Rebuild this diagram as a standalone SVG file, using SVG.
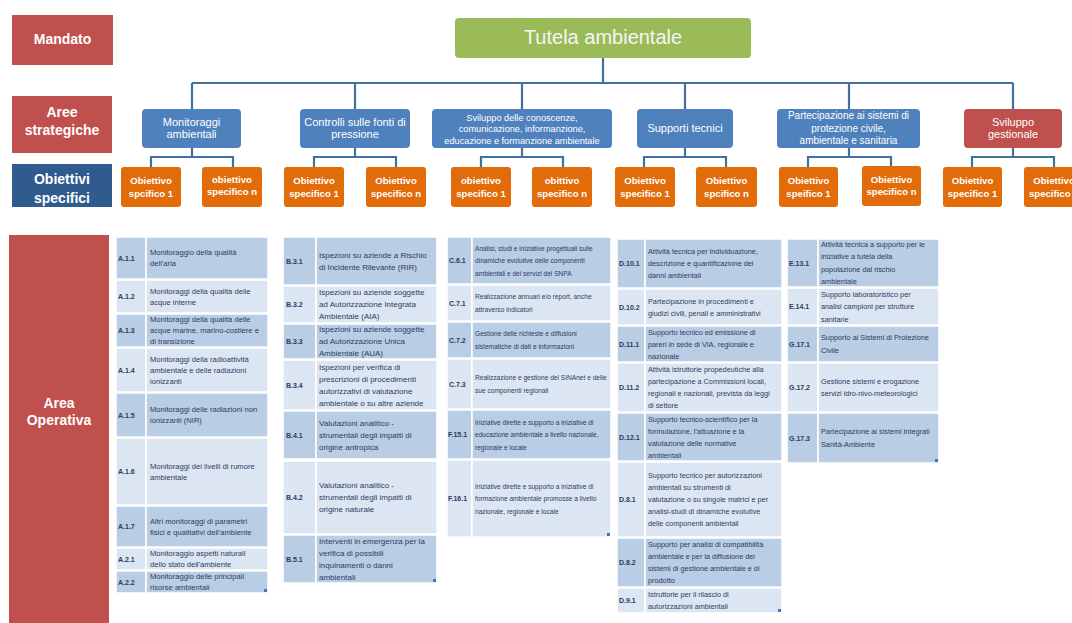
<svg xmlns="http://www.w3.org/2000/svg" width="1072" height="623" viewBox="0 0 1072 623">
<style>
text{font-family:"Liberation Sans",Arial,sans-serif}
.lab{fill:#c0504d}
.labb{fill:#2f5b8e}
.lt{fill:#fff;font-weight:bold;font-size:14px;text-anchor:middle}
.st{fill:#4f81bd}
.stt{fill:#fff;font-size:11px;text-anchor:middle}
.s9{font-size:9.2px}
.s10{font-size:10px}
.ob{fill:#e36c0a}
.obt{fill:#fff;font-size:9.6px;font-weight:bold;text-anchor:middle}
.con{stroke:#41719c;stroke-width:2.2;fill:none}
.dk{fill:#b9cde5;stroke:#fff;stroke-width:1.5}
.lg{fill:#dce6f2;stroke:#fff;stroke-width:1.5}
.cd{fill:#2e3b5e;font-size:7px;font-weight:bold}
.ta{fill:#2e3b5e;font-size:7.6px}
.tb{fill:#2e3b5e;font-size:8px}
.tc{fill:#2e3b5e;font-size:6.6px}
.td{fill:#2e3b5e;font-size:7.3px}
.mk{fill:#4472c4}
</style>
<rect width="1072" height="623" fill="#fff"/>

<!-- Left labels -->
<g id="lbl-mandato"><rect class="lab" x="12" y="15" width="101" height="50"/><text class="lt" x="62.5" y="44">Mandato</text></g>
<g id="lbl-aree"><rect class="lab" x="12" y="96" width="100" height="57"/><text class="lt" x="62" y="117">Aree</text><text class="lt" x="62" y="135">strategiche</text></g>
<g id="lbl-obiettivi"><rect class="labb" x="12" y="164" width="100" height="43"/><text class="lt" x="62" y="184">Obiettivi</text><text class="lt" x="62" y="203">specifici</text></g>
<g id="lbl-area-operativa"><rect class="lab" x="9" y="235" width="100" height="390"/><text class="lt" x="59" y="408">Area</text><text class="lt" x="59" y="425">Operativa</text></g>

<!-- Connectors -->
<g id="connectors">
<path class="con" d="M603 58V83M192 83H1013M192 83V109M355 83V109M522 83V109M685 83V109M849 83V109M1013 83V109"/>
<path class="con" d="M192 148V157M151 167V157H233V167"/>
<path class="con" d="M355 148V157M314 167V157H396V167"/>
<path class="con" d="M522 148V157M481 167V157H563V167"/>
<path class="con" d="M685 148V157M644 167V157H726V167"/>
<path class="con" d="M849 148V157M808 167V157H891V167"/>
<path class="con" d="M1013 148V157M972 167V157H1054V167"/>
</g>

<!-- Mandate -->
<g id="tutela"><rect x="455" y="18" width="296" height="40" rx="4" fill="#9bbb59"/><text x="603" y="44" font-size="20" fill="#f5f5f5" text-anchor="middle">Tutela ambientale</text></g>

<!-- Strategic areas -->
<g id="sa-monitoraggi"><rect class="st" x="142" y="109" width="99" height="39" rx="4"/><text class="stt" x="191.5" y="126">Monitoraggi</text><text class="stt" x="191.5" y="138">ambientali</text></g>
<g id="sa-controlli"><rect class="st" x="300" y="109" width="110" height="39" rx="4"/><text class="stt" x="355" y="126">Controlli sulle fonti di</text><text class="stt" x="355" y="138">pressione</text></g>
<g id="sa-sviluppo"><rect class="st" x="432" y="109" width="180" height="39" rx="4"/><text class="stt s9" x="522" y="120.5">Sviluppo delle conoscenze,</text><text class="stt s9" x="522" y="132">comunicazione, informanzione,</text><text class="stt s9" x="522" y="143.5">educazione e formanzione ambientale</text></g>
<g id="sa-supporti"><rect class="st" x="637" y="109" width="96" height="39" rx="4"/><text class="stt" x="685" y="132">Supporti tecnici</text></g>
<g id="sa-partecipazione"><rect class="st" x="777" y="109" width="143" height="39" rx="4"/><text class="stt s10" x="848.5" y="119">Partecipazione ai sistemi di</text><text class="stt s10" x="848.5" y="131.5">protezione civile,</text><text class="stt s10" x="848.5" y="144">ambientale e sanitaria</text></g>
<g id="sa-gestionale"><rect class="lab" x="964" y="109" width="98" height="39" rx="4"/><text class="stt" x="1013" y="126">Sviluppo</text><text class="stt" x="1013" y="138">gestionale</text></g>

<!-- Specific objectives -->
<g id="ob-a1"><rect class="ob" x="121" y="167" width="60" height="40" rx="3"/><text class="obt" x="151" y="184">Obiettivo</text><text class="obt" x="151" y="196.5">spcifico 1</text></g>
<g id="ob-an"><rect class="ob" x="202" y="167" width="60" height="40" rx="3"/><text class="obt" x="232" y="182.5">obiettivo</text><text class="obt" x="232" y="195">specifico n</text></g>
<g id="ob-b1"><rect class="ob" x="284" y="167" width="60" height="40" rx="3"/><text class="obt" x="314" y="184">Obiettivo</text><text class="obt" x="314" y="196.5">specifico 1</text></g>
<g id="ob-bn"><rect class="ob" x="366" y="167" width="60" height="40" rx="3"/><text class="obt" x="396" y="184">Obiettivo</text><text class="obt" x="396" y="196.5">specifico n</text></g>
<g id="ob-c1"><rect class="ob" x="451" y="167" width="60" height="40" rx="3"/><text class="obt" x="481" y="184">obiettivo</text><text class="obt" x="481" y="196.5">specifico 1</text></g>
<g id="ob-cn"><rect class="ob" x="532" y="167" width="60" height="40" rx="3"/><text class="obt" x="562" y="184">obittivo</text><text class="obt" x="562" y="196.5">specifico n</text></g>
<g id="ob-d1"><rect class="ob" x="615" y="167" width="60" height="40" rx="3"/><text class="obt" x="645" y="184">Obiettivo</text><text class="obt" x="645" y="196.5">specifico 1</text></g>
<g id="ob-dn"><rect class="ob" x="696" y="167" width="61" height="40" rx="3"/><text class="obt" x="726.5" y="184">Obiettivo</text><text class="obt" x="726.5" y="196.5">spcifico n</text></g>
<g id="ob-e1"><rect class="ob" x="779" y="167" width="59" height="40" rx="3"/><text class="obt" x="808.5" y="184">Obiettivo</text><text class="obt" x="808.5" y="196.5">speifico 1</text></g>
<g id="ob-en"><rect class="ob" x="862" y="166" width="59" height="40" rx="3"/><text class="obt" x="891.5" y="182.5">Obiettivo</text><text class="obt" x="891.5" y="195">specifico n</text></g>
<g id="ob-g1"><rect class="ob" x="943" y="167" width="59" height="40" rx="3"/><text class="obt" x="972.5" y="184">Obiettivo</text><text class="obt" x="972.5" y="196.5">specifico 1</text></g>
<g id="ob-gn"><rect class="ob" x="1024" y="167" width="60" height="40" rx="3"/><text class="obt" x="1054" y="184">Obiettivo</text><text class="obt" x="1054" y="196.5">specifico n</text></g>

<!-- Table A -->
<g id="table-a">
<rect class="dk" x="116" y="237" width="30" height="42"/><rect class="dk" x="146" y="237" width="122" height="42"/>
<text class="cd" x="118" y="260.5">A.1.1</text><text class="ta" x="150" y="255.3">Monitoraggio della qualità</text><text class="ta" x="150" y="266.3">dell'aria</text>
<rect class="lg" x="116" y="280" width="30" height="33"/><rect class="lg" x="146" y="280" width="122" height="33"/>
<text class="cd" x="118" y="299">A.1.2</text><text class="ta" x="150" y="293.8">Monitoraggi della qualità delle</text><text class="ta" x="150" y="304.8">acque interne</text>
<rect class="dk" x="116" y="314" width="30" height="33"/><rect class="dk" x="146" y="314" width="122" height="33"/>
<text class="cd" x="118" y="333">A.1.3</text><text class="ta" x="150" y="322.3">Monitoraggi della qualità delle</text><text class="ta" x="150" y="333.3">acque marine, marino-costiere e</text><text class="ta" x="150" y="344.3">di transizione</text>
<rect class="lg" x="116" y="348" width="30" height="44"/><rect class="lg" x="146" y="348" width="122" height="44"/>
<text class="cd" x="118" y="372.5">A.1.4</text><text class="ta" x="150" y="361.8">Monitoraggi della radioattività</text><text class="ta" x="150" y="372.8">ambientale e delle radiazioni</text><text class="ta" x="150" y="383.8">ionizzanti</text>
<rect class="dk" x="116" y="393" width="30" height="44"/><rect class="dk" x="146" y="393" width="122" height="44"/>
<text class="cd" x="118" y="417.5">A.1.5</text><text class="ta" x="150" y="412.3">Monitoraggi delle radiazioni non</text><text class="ta" x="150" y="423.3">ionizzanti (NIR)</text>
<rect class="lg" x="116" y="438" width="30" height="67"/><rect class="lg" x="146" y="438" width="122" height="67"/>
<text class="cd" x="118" y="474">A.1.6</text><text class="ta" x="150" y="468.8">Monitoraggi dei livelli di rumore</text><text class="ta" x="150" y="479.8">ambientale</text>
<rect class="dk" x="116" y="506" width="30" height="41"/><rect class="dk" x="146" y="506" width="122" height="41"/>
<text class="cd" x="118" y="529">A.1.7</text><text class="ta" x="150" y="523.8">Altri monitoraggi di parametri</text><text class="ta" x="150" y="534.8">fisici e qualitativi dell'ambiente</text>
<rect class="lg" x="116" y="548" width="30" height="22"/><rect class="lg" x="146" y="548" width="122" height="22"/>
<text class="cd" x="118" y="561.5">A.2.1</text><text class="ta" x="150" y="556.3">Monitoraggio aspetti naturali</text><text class="ta" x="150" y="567.3">dello stato dell'ambiente</text>
<rect class="dk" x="116" y="571" width="30" height="22"/><rect class="dk" x="146" y="571" width="122" height="22"/>
<text class="cd" x="118" y="584.5">A.2.2</text><text class="ta" x="150" y="579.3">Monitoraggio delle principali</text><text class="ta" x="150" y="590.3">risorse ambientali</text>
<rect class="mk" x="264" y="589" width="3" height="3"/>
</g>

<!-- Table B -->
<g id="table-b">
<rect class="dk" x="283" y="237" width="33" height="48"/><rect class="dk" x="316" y="237" width="121" height="48"/>
<text class="cd" x="286" y="263.5">B.3.1</text><text class="tb" x="319" y="257.8">Ispezioni su aziende a Rischio</text><text class="tb" x="319" y="269.8">di Incidente Rilevante (RIR)</text>
<rect class="lg" x="283" y="286" width="33" height="37"/><rect class="lg" x="316" y="286" width="121" height="37"/>
<text class="cd" x="286" y="307">B.3.2</text><text class="tb" x="319" y="295.3">Ispezioni su aziende soggette</text><text class="tb" x="319" y="307.3">ad Autorizzazione Integrata</text><text class="tb" x="319" y="319.3">Ambientale (AIA)</text>
<rect class="dk" x="283" y="324" width="33" height="35"/><rect class="dk" x="316" y="324" width="121" height="35"/>
<text class="cd" x="286" y="344">B.3.3</text><text class="tb" x="319" y="332.3">Ispezioni su aziende soggette</text><text class="tb" x="319" y="344.3">ad Autorizzazione Unica</text><text class="tb" x="319" y="356.3">Ambientale (AUA)</text>
<rect class="lg" x="283" y="360" width="33" height="50"/><rect class="lg" x="316" y="360" width="121" height="50"/>
<text class="cd" x="286" y="387.5">B.3.4</text><text class="tb" x="319" y="369.8">Ispezioni per verifica di</text><text class="tb" x="319" y="381.8">prescrizioni di procedimenti</text><text class="tb" x="319" y="393.8">autorizzativi di valutazione</text><text class="tb" x="319" y="405.8">ambientale o su altre aziende</text>
<rect class="dk" x="283" y="411" width="33" height="48"/><rect class="dk" x="316" y="411" width="121" height="48"/>
<text class="cd" x="286" y="437.5">B.4.1</text><text class="tb" x="319" y="425.8">Valutazioni analitico -</text><text class="tb" x="319" y="437.8">strumentali degli impatti di</text><text class="tb" x="319" y="449.8">origine antropica</text>
<rect class="lg" x="283" y="461" width="33" height="73"/><rect class="lg" x="316" y="461" width="121" height="73"/>
<text class="cd" x="286" y="500">B.4.2</text><text class="tb" x="319" y="488.3">Valutazioni analitico -</text><text class="tb" x="319" y="500.3">strumentali degli impatti di</text><text class="tb" x="319" y="512.3">origine naturale</text>
<rect class="dk" x="283" y="535" width="33" height="48"/><rect class="dk" x="316" y="535" width="121" height="48"/>
<text class="cd" x="286" y="561.5">B.5.1</text><text class="tb" x="319" y="543.8">Interventi in emergenza per la</text><text class="tb" x="319" y="555.8">verifica di possibili</text><text class="tb" x="319" y="567.8">inquinamenti o danni</text><text class="tb" x="319" y="579.8">ambientali</text>
<rect class="mk" x="433" y="579" width="3" height="3"/>
</g>

<!-- Table C -->
<g id="table-c">
<rect class="dk" x="447" y="237" width="25" height="47"/><rect class="dk" x="472" y="237" width="139" height="47"/>
<text class="cd" x="449" y="263">C.6.1</text><text class="tc" x="475" y="250.5">Analisi, studi e iniziative progettuali sulle</text><text class="tc" x="475" y="263">dinamiche evolutive delle componenti</text><text class="tc" x="475" y="275.5">ambientali e dei servizi del SNPA</text>
<rect class="lg" x="447" y="285" width="25" height="36"/><rect class="lg" x="472" y="285" width="139" height="36"/>
<text class="cd" x="449" y="305.5">C.7.1</text><text class="tc" x="475" y="299.2">Realizzazione annuari e/o report, anche</text><text class="tc" x="475" y="311.7">attraverso indicatori</text>
<rect class="dk" x="447" y="322" width="25" height="36"/><rect class="dk" x="472" y="322" width="139" height="36"/>
<text class="cd" x="449" y="342.5">C.7.2</text><text class="tc" x="475" y="336.2">Gestione delle richieste e diffusioni</text><text class="tc" x="475" y="348.7">sistematiche di dati e informazioni</text>
<rect class="lg" x="447" y="359" width="25" height="50"/><rect class="lg" x="472" y="359" width="139" height="50"/>
<text class="cd" x="449" y="386.5">C.7.3</text><text class="tc" x="475" y="380.2">Realizzazione e gestione del SINAnet e delle</text><text class="tc" x="475" y="392.7">sue componenti regionali</text>
<rect class="dk" x="447" y="410" width="25" height="49"/><rect class="dk" x="472" y="410" width="139" height="49"/>
<text class="cd" x="448" y="437">F.15.1</text><text class="tc" x="475" y="424.5">Iniziative dirette e supporto a iniziative di</text><text class="tc" x="475" y="437">educazione ambientale a livello nazionale,</text><text class="tc" x="475" y="449.5">regionale e locale</text>
<rect class="lg" x="447" y="460" width="25" height="77"/><rect class="lg" x="472" y="460" width="139" height="77"/>
<text class="cd" x="448" y="501">F.16.1</text><text class="tc" x="475" y="488.5">Iniziative dirette e supporto a iniziative di</text><text class="tc" x="475" y="501">formazione ambientale promosse a livello</text><text class="tc" x="475" y="513.5">nazionale, regionale e locale</text>
<rect class="mk" x="607" y="533" width="3" height="3"/>
</g>

<!-- Table D -->
<g id="table-d">
<rect class="dk" x="617" y="239" width="28" height="49"/><rect class="dk" x="645" y="239" width="137" height="49"/>
<text class="cd" x="619" y="266">D.10.1</text><text class="td" x="648" y="254.1">Attività tecnica per individuazione,</text><text class="td" x="648" y="266.1">descrizione e quantificazione dei</text><text class="td" x="648" y="278.1">danni ambientali</text>
<rect class="lg" x="617" y="289" width="28" height="36"/><rect class="lg" x="645" y="289" width="137" height="36"/>
<text class="cd" x="619" y="309.5">D.10.2</text><text class="td" x="648" y="303.6">Partecipazione in procedimenti  e</text><text class="td" x="648" y="315.6">giudizi civili, penali e amministrativi</text>
<rect class="dk" x="617" y="326" width="28" height="36"/><rect class="dk" x="645" y="326" width="137" height="36"/>
<text class="cd" x="619" y="346.5">D.11.1</text><text class="td" x="648" y="334.6">Supporto tecnico ed emissione di</text><text class="td" x="648" y="346.6">pareri in sede di VIA, regionale e</text><text class="td" x="648" y="358.6">nazionale</text>
<rect class="lg" x="617" y="363" width="28" height="49"/><rect class="lg" x="645" y="363" width="137" height="49"/>
<text class="cd" x="619" y="390">D.11.2</text><text class="td" x="648" y="372.1">Attività istruttorie propedeutiche alla</text><text class="td" x="648" y="384.1">partecipazione a Commissioni locali,</text><text class="td" x="648" y="396.1">regionali e nazionali, prevista da leggi</text><text class="td" x="648" y="408.1">di settore</text>
<rect class="dk" x="617" y="413" width="28" height="48"/><rect class="dk" x="645" y="413" width="137" height="48"/>
<text class="cd" x="619" y="439.5">D.12.1</text><text class="td" x="648" y="421.6">Supporto tecnico-scientifico per la</text><text class="td" x="648" y="433.6">formulazione, l'attuazione e la</text><text class="td" x="648" y="445.6">valutazione delle normative</text><text class="td" x="648" y="457.6">ambientali</text>
<rect class="lg" x="617" y="462" width="28" height="75"/><rect class="lg" x="645" y="462" width="137" height="75"/>
<text class="cd" x="619" y="502">D.8.1</text><text class="td" x="648" y="478.1">Supporto tecnico per autorizzazioni</text><text class="td" x="648" y="490.1">ambientali su strumenti di</text><text class="td" x="648" y="502.1">valutazione o su singole matrici e per</text><text class="td" x="648" y="514.1">analisi-studi di dinamiche evolutive</text><text class="td" x="648" y="526.1">delle componenti ambientali</text>
<rect class="dk" x="617" y="538" width="28" height="49"/><rect class="dk" x="645" y="538" width="137" height="49"/>
<text class="cd" x="619" y="565">D.8.2</text><text class="td" x="648" y="547.1">Supporto per analisi di compatibilità</text><text class="td" x="648" y="559.1">ambientale e per la diffusione dei</text><text class="td" x="648" y="571.1">sistemi di gestione ambientale e di</text><text class="td" x="648" y="583.1">prodotto</text>
<rect class="lg" x="617" y="588" width="28" height="25"/><rect class="lg" x="645" y="588" width="137" height="25"/>
<text class="cd" x="619" y="603">D.9.1</text><text class="td" x="648" y="597.1">Istruttorie per il rilascio di</text><text class="td" x="648" y="609.1">autorizzazioni ambientali</text>
<rect class="mk" x="778" y="609" width="3" height="3"/>
</g>

<!-- Table E -->
<g id="table-e">
<rect class="dk" x="787" y="239" width="31" height="48"/><rect class="dk" x="818" y="239" width="121" height="48"/>
<text class="cd" x="789" y="265.5">E.13.1</text><text class="td" x="821" y="246.9">Attività tecnica a supporto per le</text><text class="td" x="821" y="259.4">iniziative a tutela della</text><text class="td" x="821" y="271.9">popolazione dal rischio</text><text class="td" x="821" y="284.4">ambientale</text>
<rect class="lg" x="787" y="288" width="31" height="37"/><rect class="lg" x="818" y="288" width="121" height="37"/>
<text class="cd" x="789" y="309">E.14.1</text><text class="td" x="821" y="296.6">Supporto laboratoristico per</text><text class="td" x="821" y="309.1">analisi campioni per strutture</text><text class="td" x="821" y="321.6">sanitarie</text>
<rect class="dk" x="787" y="326" width="31" height="36"/><rect class="dk" x="818" y="326" width="121" height="36"/>
<text class="cd" x="789" y="346.5">G.17.1</text><text class="td" x="821" y="340.4">Supporto ai Sistemi di Protezione</text><text class="td" x="821" y="352.9">Civile</text>
<rect class="lg" x="787" y="363" width="31" height="49"/><rect class="lg" x="818" y="363" width="121" height="49"/>
<text class="cd" x="789" y="390">G.17.2</text><text class="td" x="821" y="383.9">Gestione sistemi e erogazione</text><text class="td" x="821" y="396.4">servizi idro-nivo-meteorologici</text>
<rect class="dk" x="787" y="413" width="31" height="50"/><rect class="dk" x="818" y="413" width="121" height="50"/>
<text class="cd" x="789" y="440.5">G.17.3</text><text class="td" x="821" y="434.4">Partecipazione ai sistemi integrati</text><text class="td" x="821" y="446.9">Sanità-Ambiente</text>
<rect class="mk" x="935" y="459" width="3" height="3"/>
</g>
</svg>
